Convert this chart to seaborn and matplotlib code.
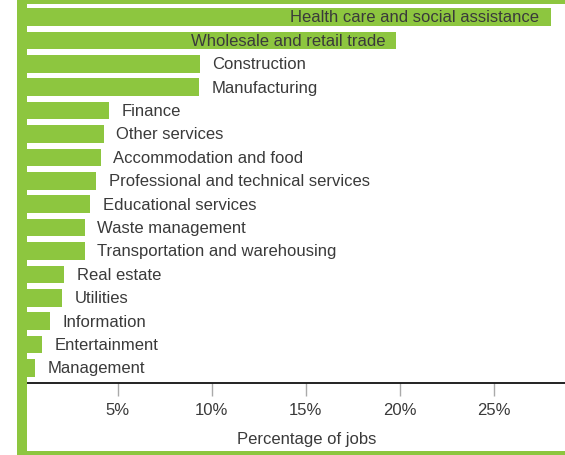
import matplotlib
matplotlib.use("Agg")
import matplotlib.pyplot as plt
import seaborn as sns
import pandas as pd
from matplotlib.patches import Rectangle

categories = ["Health care and social assistance", "Wholesale and retail trade",
              "Construction", "Manufacturing", "Finance", "Other services",
              "Accommodation and food", "Professional and technical services",
              "Educational services", "Waste management",
              "Transportation and warehousing", "Real estate", "Utilities",
              "Information", "Entertainment", "Management"]
values = [28.0, 19.8, 9.37, 9.32, 4.54, 4.27, 4.11, 3.85, 3.53, 3.26, 3.26,
          2.15, 2.04, 1.40, 0.98, 0.61]
tick_values = [5, 10, 15, 20, 25]
tick_labels = ["5%", "10%", "15%", "20%", "25%"]

GREEN = "#8dc63f"
TEXT = "#3a3a3a"

sns.set_style("white")
plt.rcParams["font.family"] = ["Liberation Sans", "DejaVu Sans"]

W, H = 565, 456
fig = plt.figure(figsize=(W / 100, H / 100), dpi=100)
x0 = 23.6
ax = fig.add_axes([x0 / W, (H - 384) / H, 1 - x0 / W, 384 / H])

df = pd.DataFrame({"cat": categories, "val": values})
sns.barplot(data=df, x="val", y="cat", color=GREEN, width=0.75, ax=ax,
            saturation=1, edgecolor="none")

ax.set_xlim(0, (W - x0) / 18.82)
ax.set_ylim((384 - 18) / 23.4, -18 / 23.4)

FS = 12
for i, (c, v) in enumerate(zip(categories, values)):
    if v > 15:
        ax.annotate(c, (v, i), xytext=(-8, 0), textcoords="offset points",
                    ha="right", va="center", fontsize=FS, color=TEXT)
    else:
        ax.annotate(c, (v, i), xytext=(9, 0), textcoords="offset points",
                    ha="left", va="center", fontsize=FS, color=TEXT)

ax.set_yticks([])
ax.set_ylabel("")
ax.set_xticks(tick_values)
ax.set_xticklabels(tick_labels, fontsize=FS, color=TEXT)
ax.tick_params(axis="x", direction="out", length=9, width=1, color="#aaaaaa",
               pad=5, bottom=True)
ax.set_xlabel("Percentage of jobs", fontsize=FS, color=TEXT)
ax.xaxis.set_label_coords((307 - x0) / (W - x0), -0.125)

for s in ["top", "right", "left"]:
    ax.spines[s].set_visible(False)
ax.spines["bottom"].set_color("#111111")
ax.spines["bottom"].set_linewidth(1.3)
ax.spines["bottom"].set_bounds((27 - x0) / 18.82, (W - x0) / 18.82)

# green frame
def px_rect(x, y, w, h):
    fig.patches.append(Rectangle((x / W, 1 - (y + h) / H), w / W, h / H,
                                 transform=fig.transFigure, color=GREEN,
                                 zorder=10, linewidth=0))

px_rect(17, 0, 10, H)
px_rect(17, 0, W - 17, 5)
px_rect(17, 452, W - 17, 4)

fig.savefig("out.png", dpi=100)
